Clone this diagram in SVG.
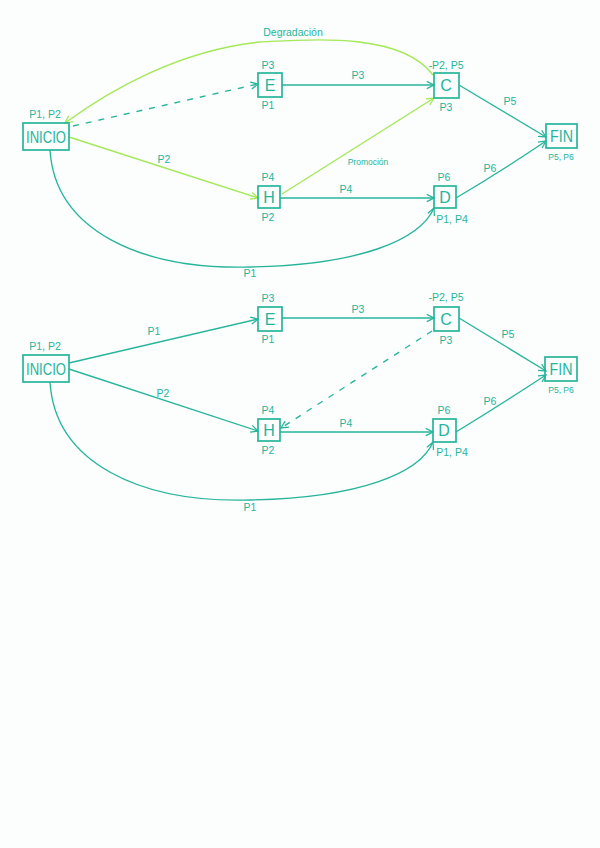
<svg xmlns="http://www.w3.org/2000/svg" width="600" height="848" viewBox="0 0 600 848">
<defs>
<marker id="at" viewBox="0 0 10 10" refX="9" refY="5" markerWidth="9" markerHeight="9" markerUnits="userSpaceOnUse" orient="auto">
<path d="M1,1 L9,5 L1,9" fill="none" stroke="#26b59b" stroke-width="1.4"/>
</marker>
<marker id="ag" viewBox="0 0 10 10" refX="9" refY="5" markerWidth="9" markerHeight="9" markerUnits="userSpaceOnUse" orient="auto">
<path d="M1,1 L9,5 L1,9" fill="none" stroke="#a3e958" stroke-width="1.4"/>
</marker>
</defs>
<style>
.bx{fill:none;stroke:#26b59b;stroke-width:1.7}
.t{fill:#26b59b;font-family:"Liberation Sans",sans-serif;text-anchor:middle}
.in{font-size:16px}
.lb{font-size:10.5px}
.sm{font-size:8.5px}
.e{fill:none;stroke:#26b59b;stroke-width:1.35}
.g{fill:none;stroke:#a3e958;stroke-width:1.4}
.d{stroke-dasharray:6 7}
</style>
<rect width="600" height="848" fill="#fcfdfd"/>
<g id="connectors">
<path class="e" d="M282,85 L434,85" marker-end="url(#at)"/>
<path class="e" d="M280,198 L434,198" marker-end="url(#at)"/>
<path class="e" d="M459,85 L546,137" marker-end="url(#at)"/>
<path class="e" d="M456,198 Q500,172 546,141" marker-end="url(#at)"/>
<path class="e" d="M50,150 C55,230 140,270 250,267 C360,265 420,240 434,208" marker-end="url(#at)"/>
<path class="e d" d="M73,126 L258,84" marker-end="url(#at)"/>
<path class="g" d="M69,137 L258,198" marker-end="url(#ag)"/>
<path class="g" d="M282,194 L434,98" marker-end="url(#ag)"/>
<path class="g" d="M433,75 C400,30 300,40 260,42 C180,50 110,90 65,123" marker-end="url(#ag)"/>
<text class="t lb" x="358" y="79">P3</text>
<text class="t lb" x="346" y="193">P4</text>
<text class="t lb" x="510" y="105">P5</text>
<text class="t lb" x="490" y="172">P6</text>
<text class="t lb" x="250" y="277">P1</text>
<text class="t lb" x="164" y="163">P2</text>
<text class="t sm" x="368" y="165">Promoción</text>
<text class="t lb" x="293" y="36">Degradación</text>

<path class="e" d="M69,363 L258,319" marker-end="url(#at)"/>
<path class="e" d="M69,369 L258,431" marker-end="url(#at)"/>
<path class="e" d="M282,318 L434,318" marker-end="url(#at)"/>
<path class="e" d="M280,432 L433,432" marker-end="url(#at)"/>
<path class="e" d="M459,318 L546,371" marker-end="url(#at)"/>
<path class="e" d="M456,432 Q500,405 546,375" marker-end="url(#at)"/>
<path class="e" d="M50,382 C55,463 140,503 250,500 C360,498 420,473 433,442" marker-end="url(#at)"/>
<path class="e d" d="M432,331 L281,428" marker-end="url(#at)"/>
<text class="t lb" x="154" y="335">P1</text>
<text class="t lb" x="163" y="397">P2</text>
<text class="t lb" x="358" y="313">P3</text>
<text class="t lb" x="346" y="427">P4</text>
<text class="t lb" x="508" y="338">P5</text>
<text class="t lb" x="490" y="405">P6</text>
<text class="t lb" x="250" y="511">P1</text>
</g>
<g id="inicio1">
<rect class="bx" x="23" y="123" width="46" height="27"/>
<text class="t in" x="46" y="143" textLength="40" lengthAdjust="spacingAndGlyphs">INICIO</text>
<text class="t lb" x="45" y="118">P1, P2</text>
</g>
<g id="e1">
<rect class="bx" x="258" y="73" width="24" height="24"/>
<text class="t in" x="270" y="91">E</text>
<text class="t lb" x="268" y="69">P3</text>
<text class="t lb" x="268" y="109">P1</text>
</g>
<g id="h1">
<rect class="bx" x="258" y="186" width="22" height="22"/>
<text class="t in" x="269" y="203">H</text>
<text class="t lb" x="268" y="181">P4</text>
<text class="t lb" x="268" y="221">P2</text>
</g>
<g id="c1">
<rect class="bx" x="434" y="73" width="25" height="25"/>
<text class="t in" x="446" y="91">C</text>
<text class="t lb" x="446" y="69">-P2, P5</text>
<text class="t lb" x="446" y="111">P3</text>
</g>
<g id="d1">
<rect class="bx" x="434" y="186" width="22" height="22"/>
<text class="t in" x="445" y="203">D</text>
<text class="t lb" x="444" y="181">P6</text>
<text class="t lb" x="452" y="223">P1, P4</text>
</g>
<g id="fin1">
<rect class="bx" x="546" y="124" width="31" height="24"/>
<text class="t in" x="561.5" y="142" textLength="23" lengthAdjust="spacingAndGlyphs">FIN</text>
<text class="t sm" x="561" y="160">P5, P6</text>
</g>
<g id="inicio2">
<rect class="bx" x="23" y="355" width="46" height="27"/>
<text class="t in" x="46" y="375" textLength="40" lengthAdjust="spacingAndGlyphs">INICIO</text>
<text class="t lb" x="45" y="350">P1, P2</text>
</g>
<g id="e2">
<rect class="bx" x="258" y="307" width="24" height="24"/>
<text class="t in" x="270" y="325">E</text>
<text class="t lb" x="268" y="302">P3</text>
<text class="t lb" x="268" y="343">P1</text>
</g>
<g id="h2">
<rect class="bx" x="258" y="419" width="22" height="22"/>
<text class="t in" x="269" y="436">H</text>
<text class="t lb" x="268" y="414">P4</text>
<text class="t lb" x="268" y="454">P2</text>
</g>
<g id="c2">
<rect class="bx" x="434" y="307" width="25" height="24"/>
<text class="t in" x="446" y="325">C</text>
<text class="t lb" x="446" y="301">-P2, P5</text>
<text class="t lb" x="446" y="344">P3</text>
</g>
<g id="d2">
<rect class="bx" x="433" y="419" width="23" height="23"/>
<text class="t in" x="444" y="436">D</text>
<text class="t lb" x="444" y="414">P6</text>
<text class="t lb" x="452" y="456">P1, P4</text>
</g>
<g id="fin2">
<rect class="bx" x="545" y="357" width="32" height="24"/>
<text class="t in" x="561" y="375" textLength="23" lengthAdjust="spacingAndGlyphs">FIN</text>
<text class="t sm" x="561" y="393">P5, P6</text>
</g>
</svg>
